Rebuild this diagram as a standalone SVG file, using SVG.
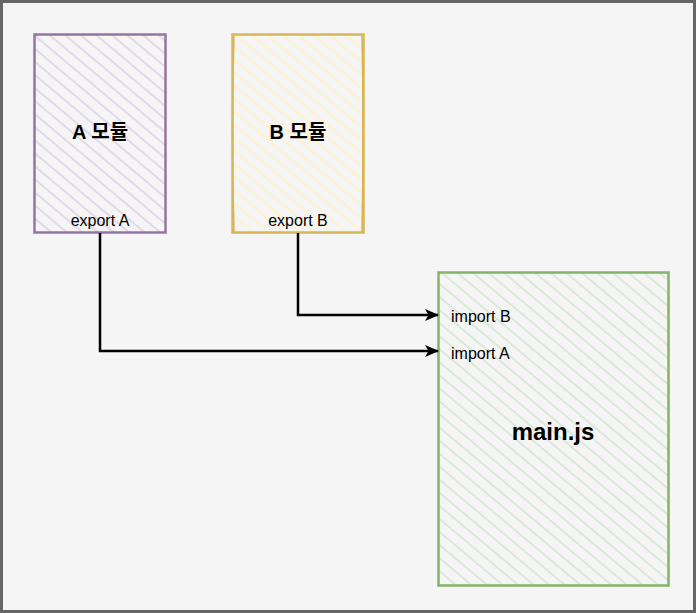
<svg xmlns="http://www.w3.org/2000/svg" width="696" height="613" viewBox="0 0 696 613">
<defs>
<pattern id="hA" patternUnits="userSpaceOnUse" width="10" height="10" patternTransform="rotate(40)"><line x1="0" y1="5" x2="10" y2="5" stroke="#e1d5e7" stroke-width="1.8"/></pattern>
<pattern id="hB" patternUnits="userSpaceOnUse" width="10" height="10" patternTransform="rotate(40)"><line x1="0" y1="5" x2="10" y2="5" stroke="#fff2cc" stroke-width="2"/></pattern>
<pattern id="hC" patternUnits="userSpaceOnUse" width="10" height="10" patternTransform="rotate(40)"><line x1="0" y1="5" x2="10" y2="5" stroke="#d5e8d4" stroke-width="1.8"/></pattern>
<marker id="arr" viewBox="0 0 14 12" refX="13" refY="6" markerWidth="14" markerHeight="12" markerUnits="userSpaceOnUse" orient="auto"><path d="M0,0 L14,6 L0,12 L3.5,6 Z" fill="#000"/></marker>
</defs>
<style>
.t{font-family:"Liberation Sans","Noto Sans CJK KR",sans-serif;fill:#000}
.title{font-size:20px;font-weight:bold;text-anchor:middle}
.lbl{font-size:16px}
.edge{fill:none;stroke:#000;stroke-width:2.5}
</style>
<rect x="1.5" y="1.5" width="693" height="610" fill="#f5f5f5" stroke="#666" stroke-width="3"/>
<g id="nodeA">
<rect x="34.5" y="34.5" width="131" height="198" fill="url(#hA)" stroke="#9673a6" stroke-width="2.5"/>
<text class="t title" x="100" y="139">A 모듈</text>
<text class="t lbl" x="100" y="226" text-anchor="middle">export A</text>
</g>
<g id="nodeB">
<rect x="232.5" y="34.5" width="131" height="198" fill="url(#hB)" stroke="#d6b656" stroke-width="2.5"/>
<path d="M234 36 Q231 130 234 231 M362 35 Q364 130 362 232" fill="none" stroke="#d6b656" stroke-width="1.5"/>
<text class="t title" x="298" y="139">B 모듈</text>
<text class="t lbl" x="298" y="226" text-anchor="middle">export B</text>
</g>
<g id="nodeMain">
<rect x="438.5" y="272.5" width="230" height="313" fill="url(#hC)" stroke="#82b366" stroke-width="2.5"/>
<text class="t lbl" x="451" y="321.5">import B</text>
<text class="t lbl" x="451" y="358.5">import A</text>
<text class="t" x="553" y="440" font-size="24" font-weight="bold" text-anchor="middle">main.js</text>
</g>
<g id="connectors">
<path class="edge" d="M298 233 V315 H438" marker-end="url(#arr)"/>
<path class="edge" d="M100 233 V351 H438" marker-end="url(#arr)"/>
</g>
</svg>
